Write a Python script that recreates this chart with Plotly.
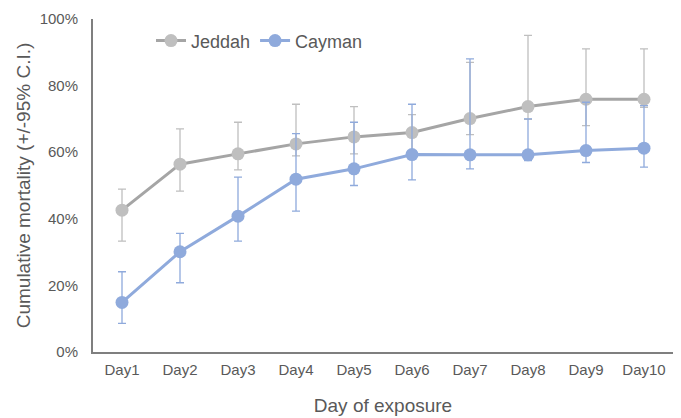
import plotly.graph_objects as go

days = ["Day1", "Day2", "Day3", "Day4", "Day5", "Day6", "Day7", "Day8", "Day9", "Day10"]

jeddah = [42.6, 56.4, 59.5, 62.5, 64.6, 65.9, 70.1, 73.7, 75.9, 75.9]
jeddah_upper = [48.9, 67.0, 69.0, 74.4, 73.7, 71.3, 87.0, 95.1, 91.0, 91.0]
jeddah_lower = [33.3, 48.3, 54.7, 58.9, 59.5, 60.5, 65.3, 69.9, 68.0, 73.5]

cayman = [14.9, 30.1, 40.8, 51.9, 55.0, 59.3, 59.2, 59.2, 60.5, 61.2]
cayman_upper = [24.1, 35.6, 52.5, 65.6, 69.0, 74.4, 88.0, 70.0, 75.0, 74.0]
cayman_lower = [8.6, 20.8, 33.3, 42.3, 50.0, 51.7, 55.0, 57.5, 56.9, 55.5]

y_ticks = [0, 20, 40, 60, 80, 100]
y_tick_labels = ["0%", "20%", "40%", "60%", "80%", "100%"]

FONT = "Liberation Sans, Arial, sans-serif"
TXT = "#595959"


def series(name, vals, up, lo, line_col, mk_col):
    return go.Scatter(
        x=days, y=vals, name=name, mode="lines+markers",
        line=dict(color=line_col, width=3),
        marker=dict(color=mk_col, size=13),
        error_y=dict(type="data", symmetric=False,
                     array=[u - v for u, v in zip(up, vals)],
                     arrayminus=[v - l for v, l in zip(vals, lo)],
                     color=mk_col, thickness=1.3, width=4),
    )


fig = go.Figure()
fig.add_trace(series("Jeddah", jeddah, jeddah_upper, jeddah_lower, "#A5A5A5", "#BFBFBF"))
fig.add_trace(series("Cayman", cayman, cayman_upper, cayman_lower, "#8FAADC", "#8FAADC"))

fig.update_layout(
    width=673, height=410,
    margin=dict(l=85, r=8, t=11, b=66),
    paper_bgcolor="white", plot_bgcolor="white",
    font=dict(family=FONT, color=TXT, size=15),
    showlegend=True,
    legend=dict(orientation="h", x=0.10, xanchor="left", y=0.99, yanchor="top",
                font=dict(size=18, color=TXT), bgcolor="rgba(0,0,0,0)",
                itemwidth=30, tracegroupgap=0),
    xaxis=dict(type="category", range=[-0.5, 9.5], showgrid=False,
               showline=True, linecolor="#7F7F7F", linewidth=2,
               ticks="", tickfont=dict(size=15, color=TXT),
               ticklabelstandoff=3, automargin=False,
               title=dict(text="Day of exposure", font=dict(size=19, color=TXT), standoff=22)),
    yaxis=dict(range=[0, 100], showgrid=False, zeroline=False,
               showline=True, linecolor="#7F7F7F", linewidth=2,
               tickvals=y_ticks, ticktext=y_tick_labels, ticks="",
               tickfont=dict(size=15, color=TXT), ticklabelstandoff=10,
               automargin=False,
               title=dict(text="Cumulative mortality (+/-95% C.I.)",
                          font=dict(size=19, color=TXT), standoff=4)),
)

fig.write_html("out.html")
